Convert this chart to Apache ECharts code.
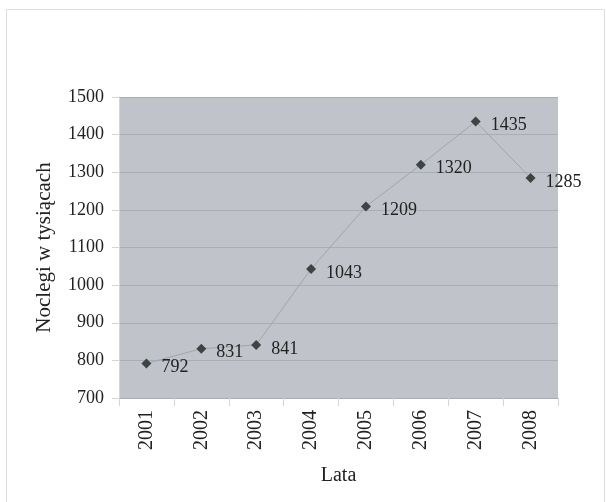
<!DOCTYPE html>
<html>
<head>
<meta charset="utf-8">
<script src="https://cdn.jsdelivr.net/npm/echarts@6/dist/echarts.min.js"></script>
<style>
  html, body { margin: 0; padding: 0; background: #fff; }
  #chart { width: 606px; height: 502px; }
</style>
</head>
<body>
<div id="chart"></div>
<script>
// Overnight stays per year (thousands)
const years = ['2001', '2002', '2003', '2004', '2005', '2006', '2007', '2008'];
const stays = [792, 831, 841, 1043, 1209, 1320, 1435, 1285];
const yTicks = { min: 700, max: 1500, step: 100 };

const serif = '"Liberation Serif", "DejaVu Serif", serif';
const chart = echarts.init(document.getElementById('chart'), null, { renderer: 'canvas' });

chart.setOption({
  animation: false,
  backgroundColor: '#ffffff',
  graphic: [{
    type: 'rect',
    shape: { x: 6.5, y: 9.5, width: 598, height: 520 },
    style: { fill: 'none', stroke: '#dedede', lineWidth: 1 },
    silent: true,
    z: -1
  }],
  grid: {
    left: 119, right: 48, top: 97, bottom: 104,
    show: true, backgroundColor: '#c0c3ca', borderWidth: 0
  },
  xAxis: {
    type: 'category',
    data: years,
    boundaryGap: true,
    name: 'Lata',
    nameLocation: 'middle',
    nameGap: 68,
    nameTextStyle: { fontFamily: serif, fontSize: 20, color: '#222' },
    axisLine: { show: false },
    axisTick: { show: true, length: 8, lineStyle: { color: '#d4d4d4' } },
    axisLabel: { rotate: 90, margin: 12, fontFamily: serif, fontSize: 20, color: '#222' },
    splitLine: { show: false }
  },
  yAxis: {
    type: 'value',
    min: yTicks.min, max: yTicks.max, interval: yTicks.step,
    name: 'Noclegi w tysiącach',
    nameLocation: 'middle',
    nameGap: 64,
    nameTextStyle: { fontFamily: serif, fontSize: 21, color: '#222' },
    axisLine: { show: true, lineStyle: { color: '#d4d4d4' } },
    axisTick: { show: true, length: 7, lineStyle: { color: '#d4d4d4' } },
    axisLabel: {
      margin: 15, fontFamily: serif, fontSize: 18, color: '#222',
      formatter: (v) => String(v)
    },
    splitLine: { show: true, lineStyle: { color: '#a9adb4', width: 1 } }
  },
  series: [{
    type: 'line',
    data: stays,
    symbol: 'diamond',
    symbolSize: 10,
    itemStyle: { color: '#3e4443' },
    lineStyle: { color: '#a2a5aa', width: 1 },
    label: {
      show: true,
      position: 'right',
      distance: 10,
      offset: [0, 4],
      fontFamily: serif,
      fontSize: 18,
      color: '#222'
    }
  }]
});
</script>
</body>
</html>
